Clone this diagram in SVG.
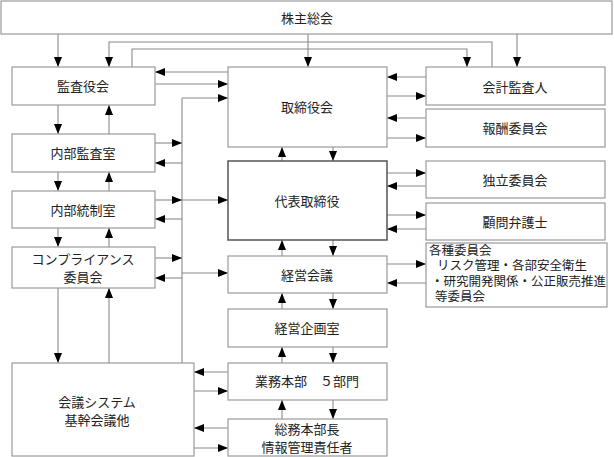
<svg xmlns="http://www.w3.org/2000/svg" width="614" height="457" viewBox="0 0 614 457">
<style>
.box{fill:#fff;stroke:#9a9a9a;stroke-width:1.2}
.bold{stroke:#555;stroke-width:1.5}
.t{font-family:"Liberation Serif","Noto Sans CJK JP",serif;font-size:13px;fill:#222;text-anchor:middle;dominant-baseline:central}
.tl{text-anchor:start;font-size:12.5px}
.c{fill:none;stroke:#8a8a8a;stroke-width:1.1}
.a{marker-end:url(#ah)}
</style>
<defs>
<marker id="ah" markerUnits="userSpaceOnUse" markerWidth="10" markerHeight="8" refX="10" refY="4" orient="auto">
<path d="M0,0 L10,4 L0,8 Z" fill="#000"/>
</marker>
</defs>
<rect width="614" height="457" fill="#fff"/>
<g id="connectors">
<!-- top -->
<path class="c a" d="M58,34 V67"/>
<path class="c a" d="M308,34 V67"/>
<path class="c a" d="M517,34 V67"/>
<path class="c a" d="M492,67 V42 H109 V67"/>
<path class="c a" d="M132,67 V49 H467 V67"/>
<!-- 取締役会 / 監査役会 -->
<path class="c a" d="M228,72 H155"/>
<path class="c a" d="M155,84 H228"/>
<!-- bus -->
<path class="c" d="M182,363 V98"/>
<path class="c a" d="M182,98 H228"/>
<path class="c a" d="M155,143 H182"/>
<path class="c a" d="M182,163 H155"/>
<path class="c a" d="M155,200 H182"/>
<path class="c a" d="M182,200 H228"/>
<path class="c a" d="M182,219 H155"/>
<path class="c a" d="M155,258 H182"/>
<path class="c a" d="M182,278 H155"/>
<path class="c a" d="M182,273 H228"/>
<!-- left column vertical -->
<path class="c a" d="M58,105 V134"/>
<path class="c a" d="M109,134 V105"/>
<path class="c a" d="M58,172 V191"/>
<path class="c a" d="M109,191 V172"/>
<path class="c a" d="M58,228 V247"/>
<path class="c a" d="M109,247 V228"/>
<path class="c a" d="M58,288 V363"/>
<path class="c a" d="M109,363 V288"/>
<!-- middle column vertical -->
<path class="c a" d="M282,161 V147"/>
<path class="c a" d="M333,147 V161"/>
<path class="c a" d="M282,256 V240"/>
<path class="c a" d="M333,240 V256"/>
<path class="c a" d="M282,309 V293"/>
<path class="c a" d="M333,293 V309"/>
<path class="c a" d="M282,363 V347"/>
<path class="c a" d="M333,347 V363"/>
<path class="c a" d="M282,419 V400"/>
<path class="c a" d="M333,400 V419"/>
<!-- right side -->
<path class="c a" d="M426,77 H387"/>
<path class="c a" d="M387,96 H426"/>
<path class="c a" d="M426,118 H387"/>
<path class="c a" d="M387,138 H426"/>
<path class="c a" d="M387,173 H426"/>
<path class="c a" d="M426,186 H387"/>
<path class="c a" d="M387,215 H426"/>
<path class="c a" d="M426,229 H387"/>
<path class="c a" d="M387,264 H426"/>
<path class="c a" d="M426,283 H387"/>
<!-- bottom -->
<path class="c a" d="M228,372 H194"/>
<path class="c a" d="M194,391 H228"/>
<path class="c a" d="M228,428 H194"/>
<path class="c a" d="M194,448 H228"/>
</g>
<g id="kabunushi"><rect class="box" x="1" y="1" width="611" height="33"/><text class="t" x="307" y="18">株主総会</text></g>
<g id="kansayakukai"><rect class="box" x="12" y="67" width="143" height="38"/><text class="t" x="83" y="86">監査役会</text></g>
<g id="naibukansa"><rect class="box" x="12" y="134" width="143" height="38"/><text class="t" x="83" y="153">内部監査室</text></g>
<g id="naibutousei"><rect class="box" x="12" y="191" width="143" height="37"/><text class="t" x="83" y="210">内部統制室</text></g>
<g id="compliance"><rect class="box" x="12" y="247" width="143" height="41"/><text class="t" x="83" y="259">コンプライアンス</text><text class="t" x="83" y="277">委員会</text></g>
<g id="kaigi"><rect class="box" x="12" y="363" width="182" height="93"/><text class="t" x="97" y="402">会議システム</text><text class="t" x="97" y="420">基幹会議他</text></g>
<g id="torishimariyakukai"><rect class="box" x="228" y="67" width="159" height="80"/><text class="t" x="307" y="107">取締役会</text></g>
<g id="daihyo"><rect class="box bold" x="228" y="161" width="159" height="79"/><text class="t" x="307" y="201">代表取締役</text></g>
<g id="keieikaigi"><rect class="box" x="228" y="256" width="159" height="37"/><text class="t" x="307" y="275">経営会議</text></g>
<g id="keieikikaku"><rect class="box" x="228" y="309" width="159" height="38"/><text class="t" x="307" y="328">経営企画室</text></g>
<g id="gyomu"><rect class="box" x="228" y="363" width="159" height="37"/><text class="t" x="307" y="381">業務本部　５部門</text></g>
<g id="somu"><rect class="box" x="228" y="419" width="159" height="37"/><text class="t" x="307" y="429">総務本部長</text><text class="t" x="307" y="447">情報管理責任者</text></g>
<g id="kaikeikansa"><rect class="box" x="426" y="67" width="179" height="38"/><text class="t" x="515" y="87">会計監査人</text></g>
<g id="hoshu"><rect class="box" x="426" y="109" width="179" height="38"/><text class="t" x="515" y="128">報酬委員会</text></g>
<g id="dokuritsu"><rect class="box" x="426" y="161" width="179" height="37"/><text class="t" x="515" y="180">独立委員会</text></g>
<g id="komon"><rect class="box" x="426" y="203" width="179" height="37"/><text class="t" x="515" y="222">顧問弁護士</text></g>
<g id="kakushu"><rect class="box" x="426" y="243" width="181" height="64"/>
<text class="t tl" x="429" y="251">各種委員会</text>
<text class="t tl" x="437" y="266">リスク管理・各部安全衛生</text>
<text class="t tl" x="431" y="282">・研究開発関係・公正販売推進</text>
<text class="t tl" x="435" y="297">等委員会</text></g>
</svg>
